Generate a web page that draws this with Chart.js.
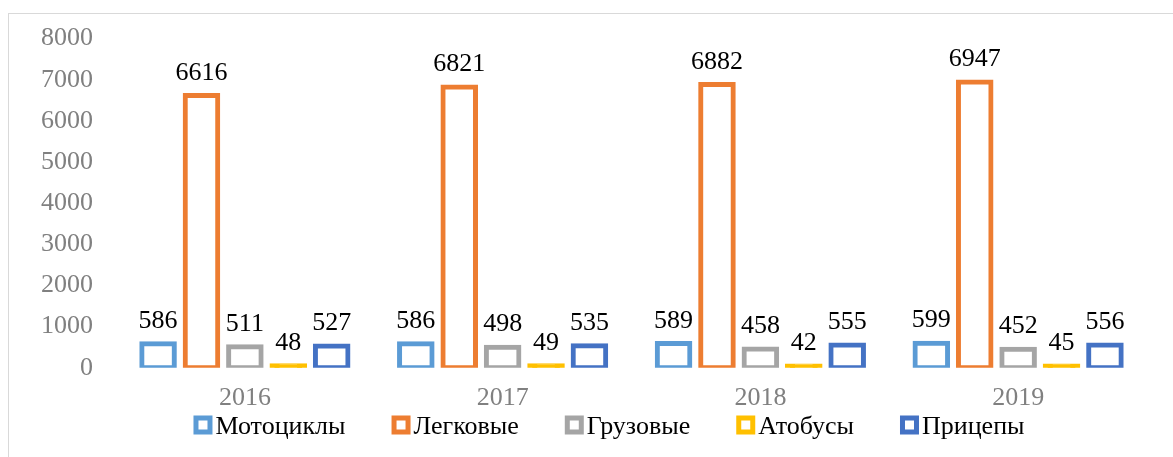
<!DOCTYPE html>
<html lang="ru">
<head>
<meta charset="utf-8">
<title>Транспортные средства по годам</title>
<script src="https://cdn.jsdelivr.net/npm/chart.js@4.4.1/dist/chart.umd.min.js"></script>
<style>
  html, body { margin: 0; padding: 0; background: #fff; overflow: hidden; }
  #wrap { position: relative; width: 1173px; height: 457px; }
  #frame {
    position: absolute; left: 8px; top: 13px;
    width: 1300px; height: 600px;
    border: 1px solid #d9d9d9; box-sizing: border-box;
  }
  #chart { position: absolute; left: 0; top: 0; }
</style>
</head>
<body>
<div id="wrap">
  <div id="frame"></div>
  <canvas id="chart" width="1173" height="457"></canvas>
</div>
<script>
// Years on the category axis
const years = ['2016', '2017', '2018', '2019'];

// Vehicle counts per type and year
const motorcycles = [586, 586, 589, 599];
const cars        = [6616, 6821, 6882, 6947];
const trucks      = [511, 498, 458, 452];
const buses       = [48, 49, 42, 45];
const trailers    = [527, 535, 555, 556];

// Series names as shown in the legend
const seriesNames = ['Мотоциклы', 'Легковые', 'Грузовые', 'Атобусы', 'Прицепы'];

// Value axis ticks
const yTicks = [0, 1000, 2000, 3000, 4000, 5000, 6000, 7000, 8000];

const seriesColors = ['#5b9bd5', '#ed7d31', '#a5a5a5', '#ffc000', '#4472c4'];
const serif = "'Liberation Serif', 'Times New Roman', serif";

const seriesValues = [motorcycles, cars, trucks, buses, trailers];

const datasets = seriesValues.map((vals, i) => ({
  label: seriesNames[i],
  data: vals,
  borderColor: seriesColors[i],
  // bus bars are only a few pixels tall, so their outline reads as a solid strip
  backgroundColor: i === 3 ? seriesColors[i] : '#ffffff',
  borderWidth: 5,
  borderSkipped: false,
  inflateAmount: 2.5,
  categoryPercentage: 0.842,
  barPercentage: 0.75
}));

// Value labels above each bar
const valueLabels = {
  id: 'valueLabels',
  afterDatasetsDraw(chart) {
    const ctx = chart.ctx;
    ctx.save();
    ctx.font = '26px ' + serif;
    ctx.fillStyle = '#000000';
    ctx.textAlign = 'center';
    ctx.textBaseline = 'alphabetic';
    chart.data.datasets.forEach((ds, di) => {
      const meta = chart.getDatasetMeta(di);
      meta.data.forEach((bar, j) => {
        ctx.fillText(String(ds.data[j]), bar.x, bar.y - 16);
      });
    });
    ctx.restore();
  }
};

// Single-row legend under the axis: outlined square, then the series name
const bottomLegend = {
  id: 'bottomLegend',
  afterDraw(chart) {
    const ctx = chart.ctx;
    const box = 14, line = 5, textGap = 5, itemGap = 44;
    const centerX = 610, centerY = 425;
    ctx.save();
    ctx.font = '26px ' + serif;
    const items = chart.data.datasets.map(ds => ({
      label: ds.label,
      color: ds.borderColor,
      width: box + line + textGap + ctx.measureText(ds.label).width
    }));
    const total = items.reduce((s, it) => s + it.width, 0) + itemGap * (items.length - 1);
    let x = centerX - total / 2;
    items.forEach(it => {
      ctx.fillStyle = '#ffffff';
      ctx.strokeStyle = it.color;
      ctx.lineWidth = line;
      ctx.fillRect(x + line / 2, centerY - box / 2, box, box);
      ctx.strokeRect(x + line / 2, centerY - box / 2, box, box);
      ctx.fillStyle = '#000000';
      ctx.textAlign = 'left';
      ctx.textBaseline = 'alphabetic';
      ctx.fillText(it.label, x + box + line + textGap - 2, centerY + 9);
      x += it.width + itemGap;
    });
    ctx.restore();
  }
};

new Chart(document.getElementById('chart'), {
  type: 'bar',
  data: { labels: years, datasets },
  options: {
    responsive: false,
    animation: false,
    layout: { padding: { top: 22, right: 26, bottom: 28, left: 0 } },
    scales: {
      x: {
        grid: { display: false, drawTicks: false },
        border: { display: false },
        ticks: { color: '#808080', font: { family: serif, size: 26 }, padding: 15 }
      },
      y: {
        min: 0,
        max: 8000,
        afterBuildTicks(scale) { scale.ticks = yTicks.map(v => ({ value: v })); },
        afterFit(scale) { scale.width = 116; },
        grid: { display: false, drawTicks: false },
        border: { display: false },
        ticks: {
          color: '#808080',
          font: { family: serif, size: 26 },
          padding: 23,
          callback: v => String(v)
        }
      }
    },
    plugins: {
      tooltip: { enabled: false },
      legend: { display: false }
    }
  },
  plugins: [valueLabels, bottomLegend]
});
</script>
</body>
</html>
